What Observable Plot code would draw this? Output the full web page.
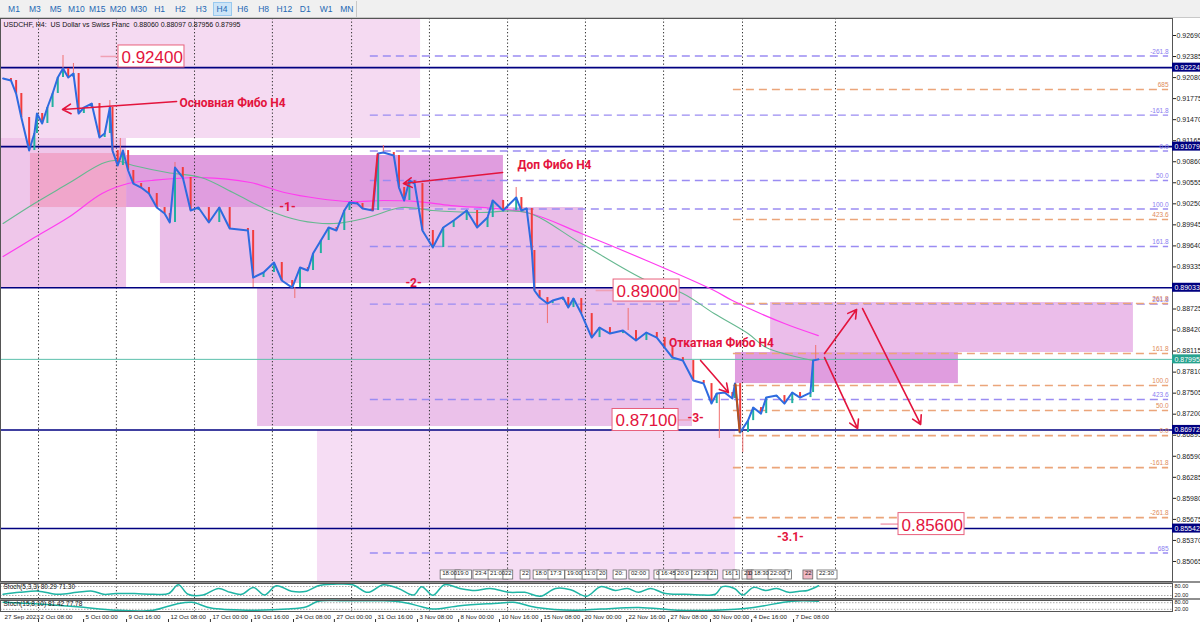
<!DOCTYPE html>
<html><head><meta charset="utf-8">
<script src="https://cdn.jsdelivr.net/npm/d3@7"></script>
<script src="https://cdn.jsdelivr.net/npm/@observablehq/plot@0.6"></script>
<style>
body{margin:0;background:#fff;width:1200px;height:626px;overflow:hidden;font-family:"Liberation Sans",Arial,sans-serif}
#toolbar{height:18px;background:#f0f0f0;position:relative;box-sizing:border-box;border-bottom:1px solid #c8c8c8}
.tb{position:absolute;top:2px;width:19px;height:14px;line-height:14px;font-size:8.5px;color:#2468b4;text-align:center;box-sizing:border-box}
.tb.active{background:#cce4f7;border:1px solid #99c9ef;line-height:12px}
.vsep{position:absolute;left:356px;top:1px;width:1px;height:16px;background:#c8c8c8}
.sep{height:2px;background:#8e8e8e}
svg{display:block}
</style></head>
<body>
<div id="toolbar"></div>
<div id="main"></div>
<div class="sep"></div>
<div id="st1"></div>
<div class="sep"></div>
<div id="st2"></div>
<script>
// ---------------- DATA ----------------
const periods = ["M1","M3","M5","M10","M15","M20","M30","H1","H2","H3","H4","H6","H8","H12","D1","W1","MN"];
const activePeriod = "H4";
const infoText = "USDCHF, H4:  US Dollar vs Swiss Franc  0.88060 0.88097 0.87956 0.87995";

// price axis ticks
const priceTicks = [0.92690,0.92385,0.92080,0.91775,0.91470,0.91165,0.90860,0.90555,0.90250,0.89945,0.89640,0.89335,0.89030,0.88725,0.88420,0.88115,0.87810,0.87505,0.87200,0.86895,0.86590,0.86285,0.85980,0.85675,0.85370,0.85065];

// time axis (bar index of H4 candles)
const timeBars = [-0.2,13.6,30.9,47.4,63.5,79.6,95.4,111.5,127.2,143,159.1,174.9,190.6,206.7,222.5,239.4,255.5,271.6,287.4,303.5];
const timeLabels = ["27 Sep 2023","2 Oct 08:00","5 Oct 00:00","9 Oct 16:00","12 Oct 08:00","17 Oct 00:00","19 Oct 16:00","24 Oct 08:00","27 Oct 00:00","31 Oct 16:00","3 Nov 08:00","8 Nov 00:00","10 Nov 16:00","15 Nov 08:00","20 Nov 00:00","22 Nov 16:00","27 Nov 08:00","30 Nov 00:00","4 Dec 16:00","7 Dec 08:00"];
const gridBars = [13.6,43.5,73.5,103.4,133.8,163.7,193.7,223.6,253.6,283.9,319.6];

// closes (USDCHF H4)
const closeBars = [0,3,5,7,10,12,13,15,17,19,21,23,25,27,29,31,34,37,39,41,42,44,46,48,50,53,56,59,62,64,66,69,72,75,79,83,87,94,96,100,104,107,111,114,117,119,122,125,128,131,133,136,138,142,144,146,150,152,154,156,158,161,165,169,173,178,182,186,188,192,197,199,201,203,204,206,209,211,215,217,219,222,226,229,233,238,243,247,251,254,257,261,265,269,272,274,277,280,281,283,286,288,291,293,297,300,303,306,310,311,313];
const closePrices = [0.92067,0.92038,0.91849,0.91501,0.91022,0.91269,0.91559,0.91414,0.91646,0.91849,0.92081,0.92212,0.92081,0.92139,0.91559,0.91646,0.91704,0.91211,0.91269,0.91646,0.91022,0.90805,0.91022,0.90733,0.90544,0.90486,0.90399,0.90196,0.90109,0.89979,0.90776,0.90631,0.90153,0.90196,0.89979,0.90196,0.89892,0.89863,0.89181,0.89254,0.89399,0.89138,0.89036,0.89326,0.89283,0.89529,0.89718,0.89906,0.89863,0.90153,0.90269,0.90254,0.90182,0.90153,0.90979,0.90993,0.90950,0.90486,0.90298,0.90588,0.90544,0.89863,0.89616,0.89906,0.90008,0.90153,0.89906,0.90051,0.90298,0.90153,0.90341,0.90153,0.90182,0.89573,0.88993,0.88891,0.88804,0.88848,0.88891,0.88746,0.88877,0.88659,0.88311,0.88456,0.88369,0.88413,0.88268,0.88384,0.88311,0.88166,0.88021,0.87978,0.87688,0.87644,0.87354,0.87499,0.87514,0.87427,0.87644,0.86934,0.87107,0.87296,0.87209,0.87441,0.87470,0.87354,0.87514,0.87441,0.87514,0.87978,0.87995];
// notable wicks
const wickBars = [23,27,41,45,66,96,112,146,197,209,240,275,284,312];
const wickTops = [0.92400,0.92284,0.91747,0.91197,0.90849,0.89181,0.89036,0.91095,0.90486,0.88804,0.88733,0.87499,0.86934,0.88196];
const wickBottoms = [0.92212,0.92139,0.91646,0.90950,0.90776,0.89036,0.88877,0.90993,0.90341,0.88514,0.88413,0.86848,0.86645,0.87978];

// moving averages
const maFastBars = [0,12,25,38,43,50,63,76,89,102,114,127,140,153,165,183,201,222,247,261,273,286,293,311];
const maFastPrices = [0.89964,0.90254,0.90544,0.90834,0.90878,0.90805,0.90704,0.90631,0.90399,0.90153,0.90008,0.89964,0.90051,0.90196,0.90153,0.90124,0.90124,0.89674,0.89138,0.88949,0.88659,0.88369,0.88166,0.87978];
const maSlowBars = [0,12,25,38,48,57,76,95,108,121,133,146,159,172,201,222,247,273,280,300,313];
const maSlowPrices = [0.89486,0.89761,0.90051,0.90399,0.90544,0.90588,0.90631,0.90559,0.90414,0.90327,0.90283,0.90298,0.90283,0.90225,0.90124,0.89819,0.89428,0.88993,0.88848,0.88514,0.88340];

// horizontal levels
const levelPrices = [0.92224,0.91079,0.89033,0.86972,0.85542];
const lastPrice = 0.87995;

// fibo levels
const fibMainStart = 141, fibPullStart = 280.4, fibEnd = 447.5;
const fibMainPrices = [0.92393,0.91537,0.91016,0.90588,0.90175,0.89631,0.88797,0.87413,0.85188];
const fibMainLabels = ["-261.8","-161.8","0.0","50.0","100.0","161.8","261.8","423.6","685"];
const fibPullPrices = [0.91907,0.90022,0.88804,0.88079,0.87616,0.87253,0.86890,0.86426,0.85701];
const fibPullLabels = ["685","423.6","261.8","161.8","100.0","50.0","0.0","-161.8","-261.8"];

// zones (rectangles)
const zoneX1 = [-1,-1,120.7,97.7,60.4,47.4,10.5,294.7,281.2];
const zoneX2 = [160.3,47.4,281.2,264.7,222.9,192.1,47.4,434.0,366.8];
const zoneTop = [0.92936,0.91197,0.86963,0.89022,0.90196,0.90950,0.90979,0.88819,0.88094];
const zoneBottom = [0.91197,0.89036,0.84775,0.87021,0.89094,0.90196,0.90196,0.88094,0.87644];

// target price boxes
const targetTexts = ["0.92400","0.89000","0.87100","0.85600"];
const targetBars = [44.3,234.4,234.0,343.8];
const targetPrices = [0.92386,0.88993,0.87116,0.85607];
const leaderFromBars = [37.4,227.5,258.6,336.9];
const leaderToBars = [44.3,234.4,264.0,343.8];

// notes
const noteTexts = ["Основная Фибо H4","Доп Фибо H4","Откатная Фибо H4"];
const noteBars = [88.1,211.7,275.8];
const notePrices = [0.91704,0.90805,0.88224];
const waveTexts = ["-1-","-2-","-3-","-3.1-"];
const waveBars = [109.2,157.6,265.9,302.3];
const wavePrices = [0.90196,0.89094,0.87137,0.85411];

// arrows
const arrowFromBars = [66.6,191.8,267.8,315.4,315.4,330.0];
const arrowFromPrices = [0.91733,0.90704,0.87979,0.88080,0.88021,0.88732];
const arrowToBars = [22.8,153.7,278.5,327.7,328.1,352.3];
const arrowToPrices = [0.91617,0.90544,0.87514,0.88718,0.86992,0.87051];
// fibo base segments
const segFromBars = [141.8,281.2];
const segFromPrices = [0.90153,0.87644];
const segToBars = [143.8,282.8];
const segToPrices = [0.90979,0.86934];

// vertical-line time labels along the bottom
const vlTexts = ["18:00","19:0","23:4","21:00","22","22","18:0","17:3","19:00","11:0","20","20:","02:00","0","16:45","20:0","22:30","21","16:","1","21","0","18:30","22:00","7","22","22:30"];
const vlBars = [168.0,173.7,180.6,186.4,192.1,198.7,203.7,209.4,215.9,222.5,228.2,234.4,240.5,250.1,252.0,258.2,264.7,270.8,276.6,280.4,283.9,285.8,287.7,293.9,300.4,307.3,312.7];
const vlHighlighted = [21,25];

// stochastics
const stochFastLabel = "Stoch(5,3,3) 80.29 71.30";
const stochFastBars = [0,6.3,13.6,21,28.4,34.3,38.6,43.2,50.4,57.7,63.6,67.3,71,76.8,82.7,87.2,91.6,96.1,100.4,104.9,110.7,116.5,121,126.8,134.2,140,146,151.8,157.6,160.7,165,169.5,175.4,181.2,187,194.5,200.3,206.3,212.1,217.9,224,229.4,235.1,239.7,244,248.6,254.3,261.6,268.9,273.5,276.2,280.8,283.9,288.1,292.7,297,301.6,305.8,308.9,313.1];
const stochFastValues = [28,41,49,28,41,49,28,33,33,28,33,92,28,23,67,41,28,74,23,85,49,49,85,95,92,41,92,67,23,79,21,92,67,54,67,41,41,15,67,59,15,79,54,67,41,67,33,28,23,28,79,67,23,74,54,67,41,49,54,85];
const stochSlowLabel = "Stoch(15,8,10) 81.42 77.78";
const stochSlowBars = [0,13.6,28.4,43.2,57.7,66.6,72.5,79.8,94.5,109.2,116.5,121,131.3,146,153.4,160.7,165,175.4,190.1,196,204.8,219.5,229.4,244,258.9,273.5,288.1,302.8,313.1];
const stochSlowValues = [84,69,44,12,12,69,84,31,12,22,44,94,97,97,84,44,22,53,75,84,37,12,22,37,12,12,37,94,94];
const stochLevels = [80,20];

// ---------------- STYLE ----------------
const ZONE_FILLS = ["#f5daf2","#efc6ea","#f6ddf4","#ebc1ea","#eabde8","#e09ddf","#f0a6cb","#ebbdea","#e09ddf"];
const RED = "#e3143d";
const FONT = "Liberation Sans, Arial, sans-serif";
const NARROW = "'Liberation Sans Narrow', 'Roboto', sans-serif";
const XDOM = [-1, 449];
const YDOM = [0.847747, 0.929365];
const W = 1200, MR = 28;

// toolbar
const tb = document.getElementById("toolbar");
periods.forEach((p, i) => {
  const d = document.createElement("div");
  d.className = "tb" + (p === activePeriod ? " active" : "");
  d.style.left = (4.5 + i * 20.8) + "px";
  d.textContent = p;
  tb.appendChild(d);
});
const vs = document.createElement("div"); vs.className = "vsep"; tb.appendChild(vs);

// tables
const closes = closeBars.map((b, i) => ({b, p: closePrices[i]}));
const candles = closes.slice(1).map((d, i) => ({b: d.b, o: closes[i].p, c: d.p}));
const wicks = wickBars.map((b, i) => ({b, hi: wickTops[i], lo: wickBottoms[i]}));
const maFast = maFastBars.map((b, i) => ({b, p: maFastPrices[i]}));
const maSlow = maSlowBars.map((b, i) => ({b, p: maSlowPrices[i]}));
const zones = zoneX1.map((x1, i) => ({x1, x2: zoneX2[i], top: zoneTop[i], bottom: zoneBottom[i], fill: ZONE_FILLS[i]}));
const fibMain = fibMainPrices.map((p, i) => ({p, t: fibMainLabels[i]}));
const fibPull = fibPullPrices.map((p, i) => ({p, t: fibPullLabels[i]}));
const targets = targetTexts.map((t, i) => ({t, b: targetBars[i], p: targetPrices[i], lb: leaderFromBars[i], le: leaderToBars[i]}));
const notes = noteTexts.map((t, i) => ({t, b: noteBars[i], p: notePrices[i]}));
const waves = waveTexts.map((t, i) => ({t, b: waveBars[i], p: wavePrices[i]}));
const arrows = arrowFromBars.map((b, i) => ({b1: b, p1: arrowFromPrices[i], b2: arrowToBars[i], p2: arrowToPrices[i]}));
const segs = segFromBars.map((b, i) => ({b1: b, p1: segFromPrices[i], b2: segToBars[i], p2: segToPrices[i], c: i === 0 ? "#e8203a" : "#b8501c"}));
const axisBoxes = levelPrices.map(p => ({p, fill: "#000080"})).concat([{p: lastPrice, fill: "#26a28e"}]);

const vlMarks = [];
vlTexts.forEach((t, i) => {
  const w = t.length * 3.4 + 3;
  const hl = vlHighlighted.includes(i);
  vlMarks.push(Plot.rect([vlBars[i]], {x1: d => d, x2: d => d, insetRight: -w, insetTop: 552, insetBottom: 2, fill: hl ? "#f2b8c4" : "white", stroke: "#666", strokeWidth: 0.8}));
});
vlMarks.push(Plot.text(vlTexts.map((t, i) => ({t, b: vlBars[i]})), {x: "b", text: "t", frameAnchor: "bottom", dy: -6.5, dx: 1.5, textAnchor: "start", fontSize: 6, fill: "#222"}));

const mainPlot = Plot.plot({
  width: W, height: 563,
  marginLeft: 0, marginRight: MR, marginTop: 0, marginBottom: 0,
  style: {fontFamily: FONT, fontSize: "7px", background: "white", overflow: "visible", color: "#222"},
  x: {domain: XDOM, axis: null},
  y: {domain: YDOM, axis: "right", ticks: priceTicks, tickFormat: d => d.toFixed(5), tickSize: 3, tickPadding: 1, label: null},
  color: {type: "identity"},
  marks: [
    Plot.rect(zones, {x1: "x1", x2: "x2", y1: "bottom", y2: "top", fill: "fill"}),
    Plot.ruleX(gridBars, {stroke: "#333", strokeDasharray: "1.3,2.2", strokeWidth: 1}),
    Plot.ruleY(fibMain, {y: "p", x1: () => fibMainStart, x2: () => fibEnd, stroke: "#9a8cf2", strokeWidth: 1.3, strokeDasharray: "8,5"}),
    Plot.ruleY(fibPull, {y: "p", x1: () => fibPullStart, x2: () => fibEnd, stroke: "#eba57a", strokeWidth: 1.6, strokeDasharray: "8,5"}),
    Plot.ruleY(levelPrices, {stroke: "#000080", strokeWidth: 1.6}),
    Plot.ruleY([lastPrice], {stroke: "#5cc0ac", strokeWidth: 1}),
    Plot.line(maSlow, {x: "b", y: "p", stroke: "#ff3cf0", strokeWidth: 1.2, curve: "catmull-rom"}),
    Plot.line(maFast, {x: "b", y: "p", stroke: "#66b890", strokeWidth: 1.1, curve: "catmull-rom"}),
    Plot.ruleX(wicks, {x: "b", y1: "lo", y2: "hi", stroke: "#f07070", strokeWidth: 1}),
    Plot.ruleX(candles, {x: "b", y1: "o", y2: "c", stroke: d => d.c >= d.o ? "#22b0a0" : "#f23c3c", strokeWidth: 2}),
    Plot.line(closes, {x: "b", y: "p", stroke: "#2e6be0", strokeWidth: 2}),
    Plot.link(segs, {x1: "b1", y1: "p1", x2: "b2", y2: "p2", stroke: "c", strokeWidth: 2}),
    Plot.arrow(arrows, {x1: "b1", y1: "p1", x2: "b2", y2: "p2", stroke: RED, strokeWidth: 1.6, headLength: 9}),
    Plot.link(targets, {x1: "lb", x2: "le", y1: "p", y2: "p", stroke: "#f0a0b4", strokeWidth: 1.5}),
    Plot.rect(targets, {x1: "b", x2: "b", y1: "p", y2: "p", insetRight: -66, insetTop: -11, insetBottom: -11, fill: "white", stroke: "#e8607c", strokeWidth: 1}),
    Plot.text(targets, {x: "b", y: "p", text: "t", dx: 3, dy: 1, textAnchor: "start", fontSize: 17, fill: RED, fontFamily: FONT}),
    Plot.text(notes, {x: "b", y: "p", text: "t", fontSize: 12, fontWeight: "bold", fill: RED, fontFamily: NARROW}),
    Plot.text(waves, {x: "b", y: "p", text: "t", fontSize: 12, fontWeight: "bold", fill: RED, fontFamily: NARROW}),
    Plot.text(fibMain, {x: () => fibEnd, y: "p", text: "t", textAnchor: "end", dy: -4.5, fontSize: 6.5, fill: "#8a7cf0"}),
    Plot.text(fibPull, {x: () => fibEnd, y: "p", text: "t", textAnchor: "end", dy: -4.5, fontSize: 6.5, fill: "#e08a5a"}),
    ...vlMarks,
    Plot.text([infoText], {text: d => d, frameAnchor: "top-left", dx: 3, dy: 4, fontSize: 7, fill: "#111"}),
    Plot.frame({stroke: "#555", strokeWidth: 1}),
    Plot.rect(axisBoxes, {x1: () => XDOM[1], x2: () => XDOM[1], y1: "p", y2: "p", insetRight: -MR, insetTop: -4.5, insetBottom: -4.5, fill: "fill"}),
    Plot.text(axisBoxes, {x: () => XDOM[1], y: "p", text: d => d.p.toFixed(5), dx: 2, textAnchor: "start", fontSize: 7, fill: "white"})
  ]
});
document.getElementById("main").appendChild(mainPlot);

function stochPlot(bars, values, label, h, mb, withAxis) {
  const data = bars.map((b, i) => ({b, v: values[i]}));
  const marks = [
    Plot.ruleY(stochLevels, {stroke: "#aaa", strokeDasharray: "1.5,1.5"}),
    Plot.ruleX(gridBars, {stroke: "#333", strokeDasharray: "1.3,2.2"}),
    Plot.line(data, {x: "b", y: "v", stroke: "#1fb5a5", strokeWidth: 1.5, curve: "catmull-rom"}),
    Plot.text([label], {text: d => d, frameAnchor: "top-left", dx: 3, dy: 1, fontSize: 6.5, fill: "#111"}),
    Plot.text(stochLevels, {x: () => XDOM[1], y: d => d, text: d => d.toFixed(2), dx: 2, textAnchor: "start", fontSize: 5.5, fill: "#222"}),
    Plot.frame({stroke: "#555"})
  ];
  if (withAxis) {
    const t = timeBars.map((b, i) => ({b, t: timeLabels[i]}));
    marks.push(Plot.tickX(timeBars.slice(1), {x: d => d, insetTop: 8, dy: 11, stroke: "#333"}));
    marks.push(Plot.text(t, {x: "b", text: "t", frameAnchor: "bottom", dy: 7.5, dx: 2, textAnchor: "start", fontSize: 6.2, fill: "#222"}));
  }
  return Plot.plot({
    width: W, height: h, marginLeft: 0, marginRight: MR, marginTop: 0, marginBottom: mb,
    style: {fontFamily: FONT, fontSize: "7px", background: "white", overflow: "visible"},
    x: {domain: XDOM, axis: null},
    y: {domain: [0, 100], axis: null},
    marks
  });
}
document.getElementById("st1").appendChild(stochPlot(stochFastBars, stochFastValues, stochFastLabel, 15, 0, false));
document.getElementById("st2").appendChild(stochPlot(stochSlowBars, stochSlowValues, stochSlowLabel, 26, 15, true));
</script>
</body></html>
